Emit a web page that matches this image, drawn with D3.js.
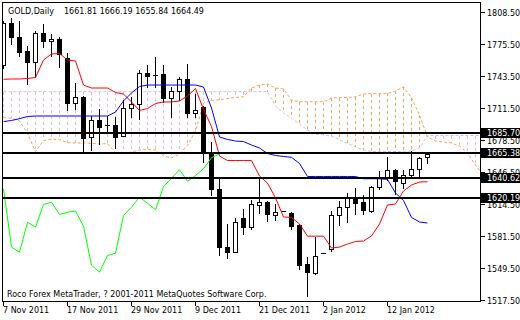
<!DOCTYPE html>
<html>
<head>
<meta charset="utf-8">
<script src="https://cdn.jsdelivr.net/npm/d3@7"></script>
<style>
  html, body { margin: 0; padding: 0; background: #fff; }
  svg { display: block; font-family: "DejaVu Sans", sans-serif; font-size: 8px; }
</style>
</head>
<body>
<svg id="chart" width="520" height="320"></svg>
<script>
// GOLD daily, bar 0 = 7 Nov 2011 ... bar 53 = 19 Jan 2012
const open = [1754.9,1796.7,1783.2,1768.1,1757.3,1787.0,1778.5,1780.9,1761.7,1716.3,
  1722.6,1681.3,1699.1,1693.8,1694.0,1682.7,1711.2,1715.2,1746.6,1744.2,
  1745.5,1720.9,1728.0,1740.5,1706.1,1711.8,1664.7,1629.3,1570.4,1565.3,
  1600.0,1590.6,1613.2,1615.8,1602.4,1606.9,1604.7,1592.6,1552.9,1544.5,
  1564.3,1568.7,1602.4,1611.2,1620.9,1616.5,1607.4,1631.5,1640.5,1648.6,
  1635.0,1642.8,1649.6,1661.81];
const high = [1799.0,1802.1,1799.4,1774.1,1789.3,1795.4,1785.3,1783.2,1766.4,1736.1,
  1723.0,1703.4,1710.2,1703.1,1701.7,1719.3,1722.6,1748.9,1754.0,1762.3,
  1754.0,1732.7,1742.1,1755.0,1725.3,1712.6,1676.4,1639.5,1593.3,1600.0,
  1609.0,1618.2,1639.5,1617.0,1613.5,1607.2,1606.0,1593.5,1560.9,1580.5,
  1564.5,1606.9,1617.5,1624.9,1630.4,1622.6,1632.0,1647.1,1661.3,1649.6,
  1648.6,1667.3,1661.3,1666.19];
const low = [1751.5,1775.9,1764.0,1735.4,1742.8,1772.4,1764.0,1752.9,1709.2,1710.2,
  1666.3,1668.1,1674.8,1686.0,1670.8,1682.2,1701.7,1700.1,1732.0,1732.0,
  1716.9,1701.7,1718.6,1702.4,1701.7,1656.2,1622.6,1562.0,1559.6,1565.0,
  1584.0,1589.0,1604.7,1596.6,1598.0,1606.6,1588.6,1548.5,1521.5,1543.0,
  1564.1,1566.5,1592.6,1595.6,1604.1,1604.1,1605.7,1629.4,1638.0,1623.6,
  1630.4,1641.0,1641.0,1655.84];
const close = [1796.7,1783.2,1767.4,1757.3,1787.0,1778.5,1780.9,1765.8,1715.9,1721.9,
  1680.9,1698.4,1692.3,1693.4,1681.5,1711.2,1715.2,1746.6,1743.2,1743.6,
  1720.9,1728.0,1740.5,1705.7,1709.2,1666.3,1629.3,1570.4,1565.3,1595.6,
  1590.6,1613.5,1615.8,1603.4,1605.7,1606.9,1591.6,1552.1,1545.2,1561.9,
  1564.3,1602.4,1610.7,1620.9,1614.8,1608.1,1631.5,1640.0,1648.6,1637.0,
  1642.8,1649.6,1660.8,1664.49];

// Ichimoku lines
const tenkan = [1740.0,1740.3,1740.3,1740.8,1741.8,1759.5,1765.6,1766.1,1759.5,1758.5,
  1734.2,1731.2,1731.2,1731.2,1726.7,1725.1,1717.1,1708.5,1710.5,1715.5,
  1717.1,1717.1,1718.1,1723.1,1730.7,1709.5,1692.3,1662.5,1657.9,1657.9,
  1657.9,1657.9,1642.3,1635.2,1620.1,1600.9,1600.4,1593.8,1581.5,1581.5,
  1581.5,1569.5,1570.5,1573.5,1576.1,1576.6,1581.7,1593.8,1613.0,1614.0,
  1627.1,1633.2,1636.2,1636.5];
const kijun = [1697.2,1698.4,1700.2,1702.4,1702.9,1702.9,1702.9,1702.9,1702.9,1702.9,
  1702.9,1702.9,1702.9,1702.9,1706.9,1718.1,1726.2,1732.7,1734.2,1734.2,
  1734.2,1734.2,1734.2,1734.2,1734.2,1732.2,1711.0,1681.7,1679.2,1677.6,
  1677.1,1673.6,1670.6,1665.0,1663.0,1662.0,1661.2,1654.9,1641.8,1641.8,
  1641.8,1641.8,1641.8,1641.8,1641.8,1639.5,1639.5,1639.5,1638.8,1625.1,
  1617.5,1600.4,1595.8,1594.8];
// senkou spans run 26 bars past the last candle
const spanA = [1701.4,1700.6,1697.9,1685.7,1666.8,1678.2,1679.4,1679.2,1675.9,1675.6,
  1675.6,1675.3,1674.6,1675.1,1666.0,1665.2,1666.5,1668.6,1669.1,1668.6,
  1662.5,1660.5,1664.5,1673.1,1687.8,1716.0,1718.6,1719.4,1720.5,1721.6,
  1722.4,1731.2,1734.2,1735.2,1731.2,1730.2,1718.8,1717.4,1717.4,1717.4,
  1717.4,1721.1,1721.6,1721.6,1722.4,1725.1,1725.6,1725.6,1725.8,1728.2,
  1732.4,1721.1,1703.9,1681.7,1677.7,1676.6,1675.6,1672.6,1665.5,1653.4,
  1643.3];
const spanB = [1727.5,1727.5,1727.5,1727.5,1727.5,1727.5,1727.5,1727.5,1727.5,1727.5,
  1727.5,1727.5,1727.5,1727.5,1727.5,1727.5,1727.5,1727.5,1727.5,1727.5,
  1727.5,1727.5,1727.5,1727.5,1727.5,1727.5,1727.5,1727.5,1727.5,1727.5,
  1727.5,1727.5,1727.5,1727.5,1713.0,1705.9,1700.6,1694.8,1688.8,1684.7,
  1683.7,1682.7,1678.7,1675.3,1671.6,1668.6,1667.0,1667.0,1667.0,1667.0,
  1667.0,1667.5,1670.6,1683.2,1683.2,1683.2,1683.2,1683.2,1683.2,1683.2,
  1683.2];

const levels = [1685.70, 1665.38, 1640.62, 1620.19];
const yTicks = [1808.50, 1775.50, 1743.50, 1711.50, 1678.50, 1646.50, 1614.50, 1581.50, 1549.50, 1517.50];
const xTickBars = [0, 8, 16, 24, 32, 40, 48];
const xTickLabels = ["7 Nov 2011", "17 Nov 2011", "29 Nov 2011", "9 Dec 2011", "21 Dec 2011", "2 Jan 2012", "12 Jan 2012"];

const svg = d3.select("#chart");
const x = d3.scaleLinear().domain([0, 60]).range([3.5, 483.5]);
const y = d3.scaleLinear().domain([1517.5, 1808.5]).range([299.5, 11.5]);
const fmt = d3.format(".2f");
const snap = v => Math.round(v);

svg.append("defs").append("clipPath").attr("id", "plotclip")
  .append("rect").attr("x", 3).attr("y", 3).attr("width", 477).attr("height", 298);

const plot = svg.append("g").attr("clip-path", "url(#plotclip)");

// kumo hatch
const kumo = spanA.map((a, i) => ({ i: i, a: a, b: spanB[i] }));
plot.append("g").selectAll("line")
  .data(kumo)
  .join("line")
  .attr("x1", d => x(d.i)).attr("x2", d => x(d.i))
  .attr("y1", d => y(Math.max(d.a, d.b))).attr("y2", d => y(Math.min(d.a, d.b)))
  .attr("stroke", d => d.a >= d.b ? "#F4A460" : "#D8BFD8")
  .attr("stroke-dasharray", "3,3")
  .attr("shape-rendering", "crispEdges");

const line = d3.line().x((d, i) => x(i)).y(d => y(d));

plot.append("path").datum(spanA).attr("d", line)
  .attr("fill", "none").attr("stroke", "#F4A460").attr("stroke-dasharray", "3,2");
plot.append("path").datum(spanB).attr("d", line)
  .attr("fill", "none").attr("stroke", "#D8BFD8").attr("stroke-dasharray", "3,2");

// candles
const bars = open.map((o, i) => ({ i: i, o: o, h: high[i], l: low[i], c: close[i] }));
const cg = plot.append("g").attr("shape-rendering", "crispEdges");
cg.selectAll("line.wick")
  .data(bars)
  .join("line")
  .attr("class", "wick")
  .attr("x1", d => x(d.i)).attr("x2", d => x(d.i))
  .attr("y1", d => snap(y(d.h))).attr("y2", d => snap(y(d.l)) + 1)
  .attr("stroke", "#000");

bars.forEach(d => {
  const top = snap(y(Math.max(d.o, d.c)));
  const bot = snap(y(Math.min(d.o, d.c)));
  const cx = x(d.i);
  if (bot - top < 2) {
    cg.append("line")
      .attr("x1", cx - 2.5).attr("x2", cx + 2.5)
      .attr("y1", top + 0.5).attr("y2", top + 0.5)
      .attr("stroke", "#000");
  } else if (d.c < d.o) {
    cg.append("rect")
      .attr("x", cx - 2.5).attr("y", top)
      .attr("width", 5).attr("height", bot - top + 1)
      .attr("fill", "#000");
  } else {
    cg.append("rect")
      .attr("x", cx - 2).attr("y", top + 0.5)
      .attr("width", 4).attr("height", bot - top)
      .attr("fill", "#fff").attr("stroke", "#000");
  }
});

// tenkan, kijun, chikou
plot.append("path").datum(tenkan).attr("d", line)
  .attr("fill", "none").attr("stroke", "#FF0000");
plot.append("path").datum(kijun).attr("d", line)
  .attr("fill", "none").attr("stroke", "#0000FF");
plot.append("path").datum(close.slice(26)).attr("d", line)
  .attr("fill", "none").attr("stroke", "#00FF00");

// horizontal levels
svg.append("g").selectAll("line")
  .data(levels)
  .join("line")
  .attr("x1", 3).attr("x2", 481)
  .attr("y1", d => snap(y(d))).attr("y2", d => snap(y(d)))
  .attr("stroke", "#000").attr("stroke-width", 2)
  .attr("shape-rendering", "crispEdges");

// frame
svg.append("rect")
  .attr("x", 2.5).attr("y", 2.5).attr("width", 478).attr("height", 299)
  .attr("fill", "none").attr("stroke", "#000").attr("shape-rendering", "crispEdges");

// right price axis
const ya = svg.append("g");
ya.selectAll("line")
  .data(yTicks)
  .join("line")
  .attr("x1", 481).attr("x2", 485)
  .attr("y1", d => snap(y(d)) + 0.5).attr("y2", d => snap(y(d)) + 0.5)
  .attr("stroke", "#000").attr("shape-rendering", "crispEdges");
ya.selectAll("text")
  .data(yTicks)
  .join("text")
  .attr("x", 487).attr("y", d => snap(y(d)) + 3.5)
  .attr("fill", "#000")
  .text(d => fmt(d));

const lb = svg.append("g").selectAll("g")
  .data(levels)
  .join("g");
lb.append("rect")
  .attr("x", 481).attr("y", d => snap(y(d)) - 5)
  .attr("width", 39).attr("height", 10)
  .attr("fill", "#000");
lb.append("text")
  .attr("x", 487).attr("y", d => snap(y(d)) + 3)
  .attr("fill", "#fff")
  .text(d => fmt(d));

// time axis
const xa = svg.append("g");
xa.selectAll("line")
  .data(xTickBars)
  .join("line")
  .attr("x1", d => x(d)).attr("x2", d => x(d))
  .attr("y1", 302).attr("y2", 306)
  .attr("stroke", "#000").attr("shape-rendering", "crispEdges");
xa.selectAll("text")
  .data(xTickBars)
  .join("text")
  .attr("x", d => x(d) - 0.5).attr("y", 313)
  .attr("fill", "#000")
  .text((d, i) => xTickLabels[i]);

// header and footer
const last = open.length - 1;
svg.append("text").attr("x", 8).attr("y", 14).attr("fill", "#000").text("GOLD,Daily");
svg.append("text").attr("x", 64).attr("y", 14).attr("fill", "#000")
  .text([open[last], high[last], low[last], close[last]].map(fmt).join(" "));
svg.append("text").attr("x", 7).attr("y", 297).attr("fill", "#000")
  .text("Roco Forex MetaTrader, ? 2001-2011 MetaQuotes Software Corp.");
</script>
</body>
</html>
